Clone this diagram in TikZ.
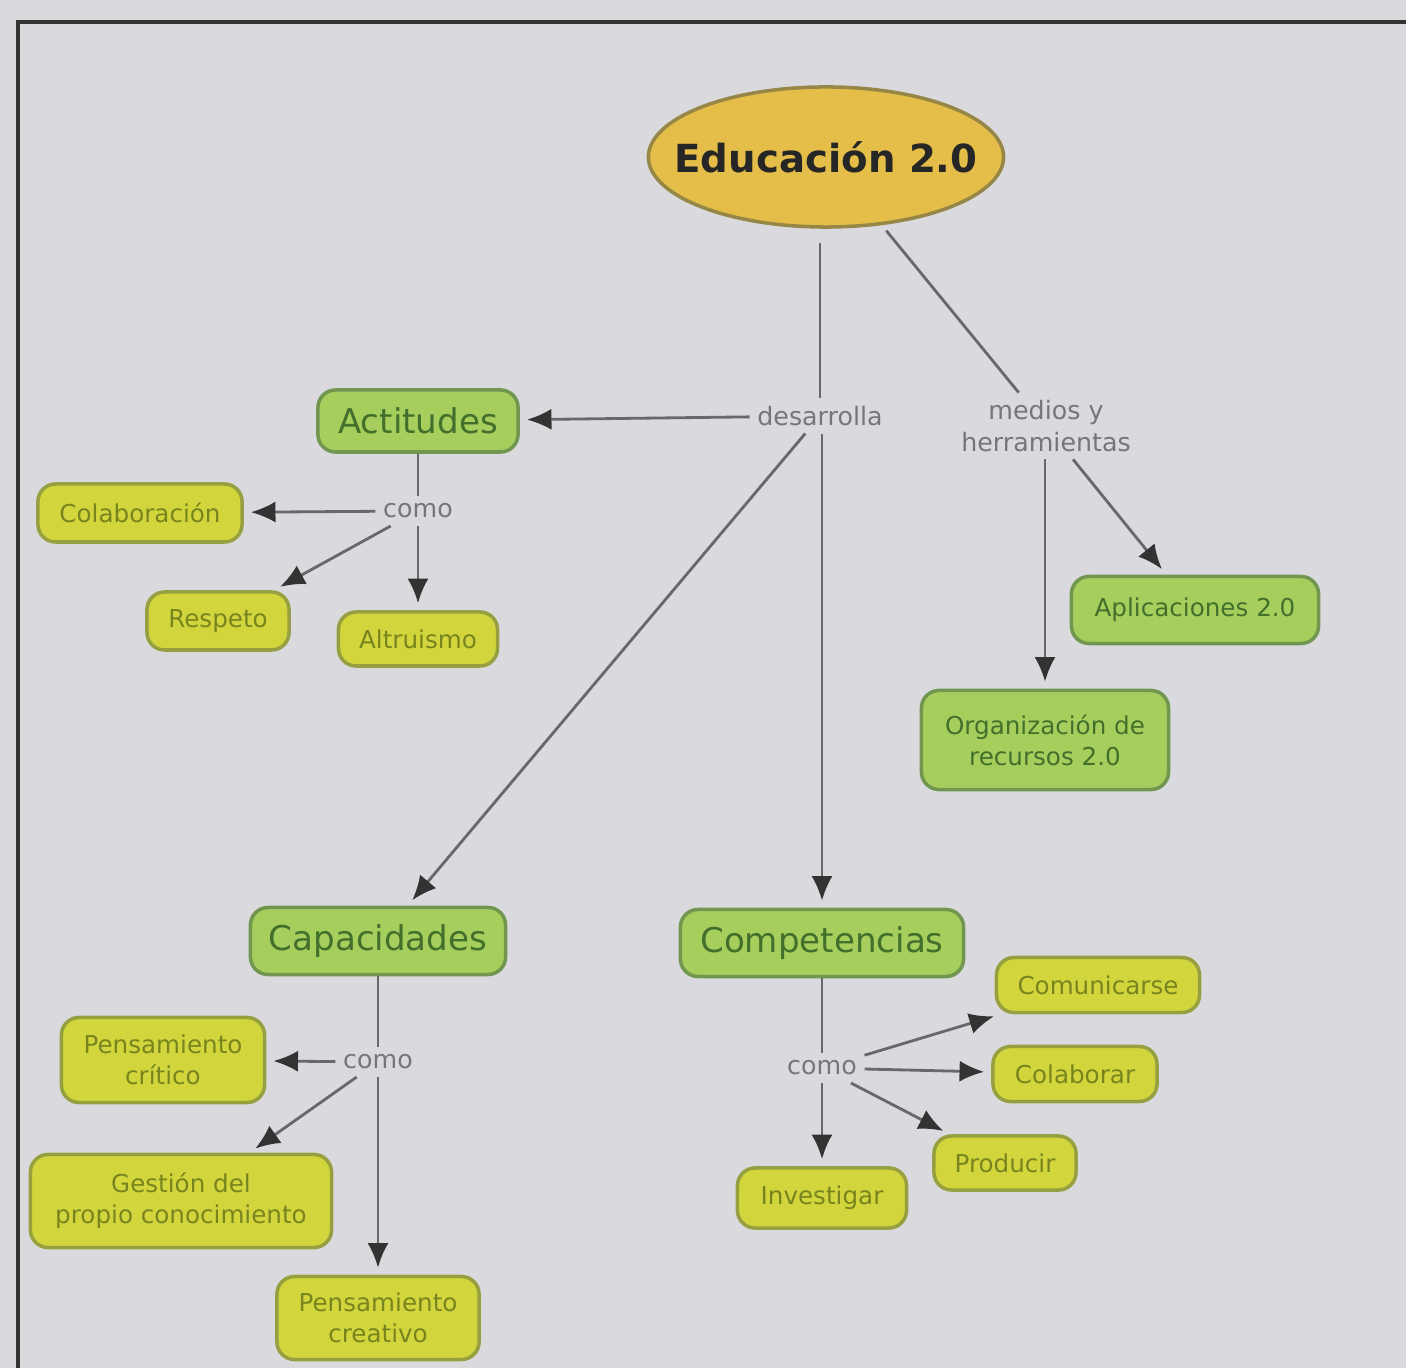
\documentclass[tikz,border=0pt]{standalone}
\usepackage{fontspec}
\setmainfont{DejaVu Sans}
\usepackage{xcolor}
\usetikzlibrary{shapes.geometric,arrows.meta,positioning}

\definecolor{paper}{RGB}{218,218,222}
\definecolor{goldfill}{RGB}{228,190,72}
\definecolor{goldline}{RGB}{150,135,70}
\definecolor{greenfill}{RGB}{166,206,92}
\definecolor{greenline}{RGB}{112,150,80}
\definecolor{greentext}{RGB}{66,112,44}
\definecolor{yellowfill}{RGB}{210,214,60}
\definecolor{yellowline}{RGB}{150,160,64}
\definecolor{yellowtext}{RGB}{120,132,30}
\definecolor{linkcol}{RGB}{104,104,108}
\definecolor{labelcol}{RGB}{118,118,122}

\begin{document}
\begin{tikzpicture}[
    x=0.01cm, y=-0.01cm,
    root/.style={ellipse, draw=goldline, fill=goldfill, line width=1pt, minimum width=3.55cm, minimum height=1.4cm, inner xsep=-0.26cm, inner ysep=0pt, text=black!85, font=\fontsize{11}{13}\selectfont\bfseries},
    concept/.style={rectangle, rounded corners=5pt, draw=greenline, fill=greenfill, line width=1pt, text=greentext, align=center, inner sep=2pt, font=\fontsize{9.7}{11}\selectfont},
    subconcept/.style={rectangle, rounded corners=5pt, draw=greenline, fill=greenfill, line width=1pt, text=greentext, align=center, inner sep=2pt, font=\fontsize{7}{8.8}\selectfont},
    leaf/.style={rectangle, rounded corners=5pt, draw=yellowline, fill=yellowfill, line width=1pt, text=yellowtext, align=center, inner sep=2pt, font=\fontsize{7}{8.8}\selectfont},
    linking/.style={text=labelcol, align=center, inner sep=2pt, font=\fontsize{7.2}{9}\selectfont},
    link/.style={draw=linkcol, line width=0.8pt},
    arrow/.style={link, -{Latex[length=7pt, width=6pt, color=black!80]}, shorten >=2pt}
]
    % Page
    \useasboundingbox (0,0) rectangle (1406,1368);
    \fill[paper] (0,0) rectangle (1406,1368);
    \draw[black!80, line width=1.1pt] (1406,22) -- (18,22) -- (18,1368);

    % Root
    \node[root] (edu) at (826,157) {Educación 2.0};

    % Linking phrases
    \node[linking] (desarrolla) at (820,416) {desarrolla};
    \node[linking] (medios) at (1046,426) {medios y\\herramientas};

    % Main concepts
    \node[concept, minimum width=2.0cm, minimum height=0.62cm] (actitudes) at (418,421) {Actitudes};
    \node[concept, minimum width=2.55cm, minimum height=0.67cm] (capacidades) at (378,941) {Capacidades};
    \node[concept, minimum width=2.83cm, minimum height=0.67cm] (competencias) at (822,943) {Competencias};

    % Tools
    \node[subconcept, minimum width=2.47cm, minimum height=0.67cm] (aplicaciones) at (1195,610) {Aplicaciones 2.0};
    \node[subconcept, minimum width=2.47cm, minimum height=0.99cm] (organizacion) at (1045,740) {Organización de\\recursos 2.0};

    % Actitudes
    \node[linking] (como1) at (418,511) {como};
    \node[leaf, minimum width=2.04cm, minimum height=0.58cm] (colaboracion) at (140,513) {Colaboración};
    \node[leaf, minimum width=1.42cm, minimum height=0.58cm] (respeto) at (218,621) {Respeto};
    \node[leaf, minimum width=1.59cm, minimum height=0.54cm] (altruismo) at (418,639) {Altruismo};

    % Capacidades
    \node[linking] (como2) at (378,1062) {como};
    \node[leaf, minimum width=2.03cm, minimum height=0.85cm] (critico) at (163,1060) {Pensamiento\\crítico};
    \node[leaf, minimum width=3.01cm, minimum height=0.93cm] (gestion) at (181,1201) {Gestión del\\propio conocimiento};
    \node[leaf, minimum width=2.02cm, minimum height=0.83cm] (creativo) at (378,1318) {Pensamiento\\creativo};

    % Competencias
    \node[linking] (como3) at (822,1068) {como};
    \node[leaf, minimum width=2.03cm, minimum height=0.55cm] (comunicarse) at (1098,985) {Comunicarse};
    \node[leaf, minimum width=1.64cm, minimum height=0.55cm] (colaborar) at (1075,1074) {Colaborar};
    \node[leaf, minimum width=1.42cm, minimum height=0.54cm] (producir) at (1005,1163) {Producir};
    \node[leaf, minimum width=1.69cm, minimum height=0.60cm] (investigar) at (822,1198) {Investigar};

    % Links from the root
    \draw[link, shorten <=4pt] (edu.south -| desarrolla) -- (desarrolla);
    \draw[link, shorten <=2pt] (edu) -- (medios);
    \draw[arrow] (desarrolla) -- (actitudes);
    \draw[arrow] (desarrolla) -- (capacidades);
    \draw[arrow] (desarrolla.south -| competencias) -- (competencias);
    \draw[arrow] (medios.south -| organizacion) -- (organizacion);
    \draw[arrow] (medios) -- (aplicaciones);

    % Actitudes como ...
    \draw[link] (actitudes) -- (como1);
    \draw[arrow] (como1) -- (colaboracion);
    \draw[arrow] (como1) -- (respeto);
    \draw[arrow] (como1) -- (altruismo);

    % Capacidades como ...
    \draw[link] (capacidades) -- (como2);
    \draw[arrow] (como2) -- (critico);
    \draw[arrow] (como2) -- (gestion);
    \draw[arrow] (como2) -- (creativo);

    % Competencias como ...
    \draw[link] (competencias) -- (como3);
    \draw[arrow] (como3) -- (comunicarse);
    \draw[arrow] (como3) -- (colaborar);
    \draw[arrow] (como3) -- (producir);
    \draw[arrow] (como3) -- (investigar);
\end{tikzpicture}
\end{document}
